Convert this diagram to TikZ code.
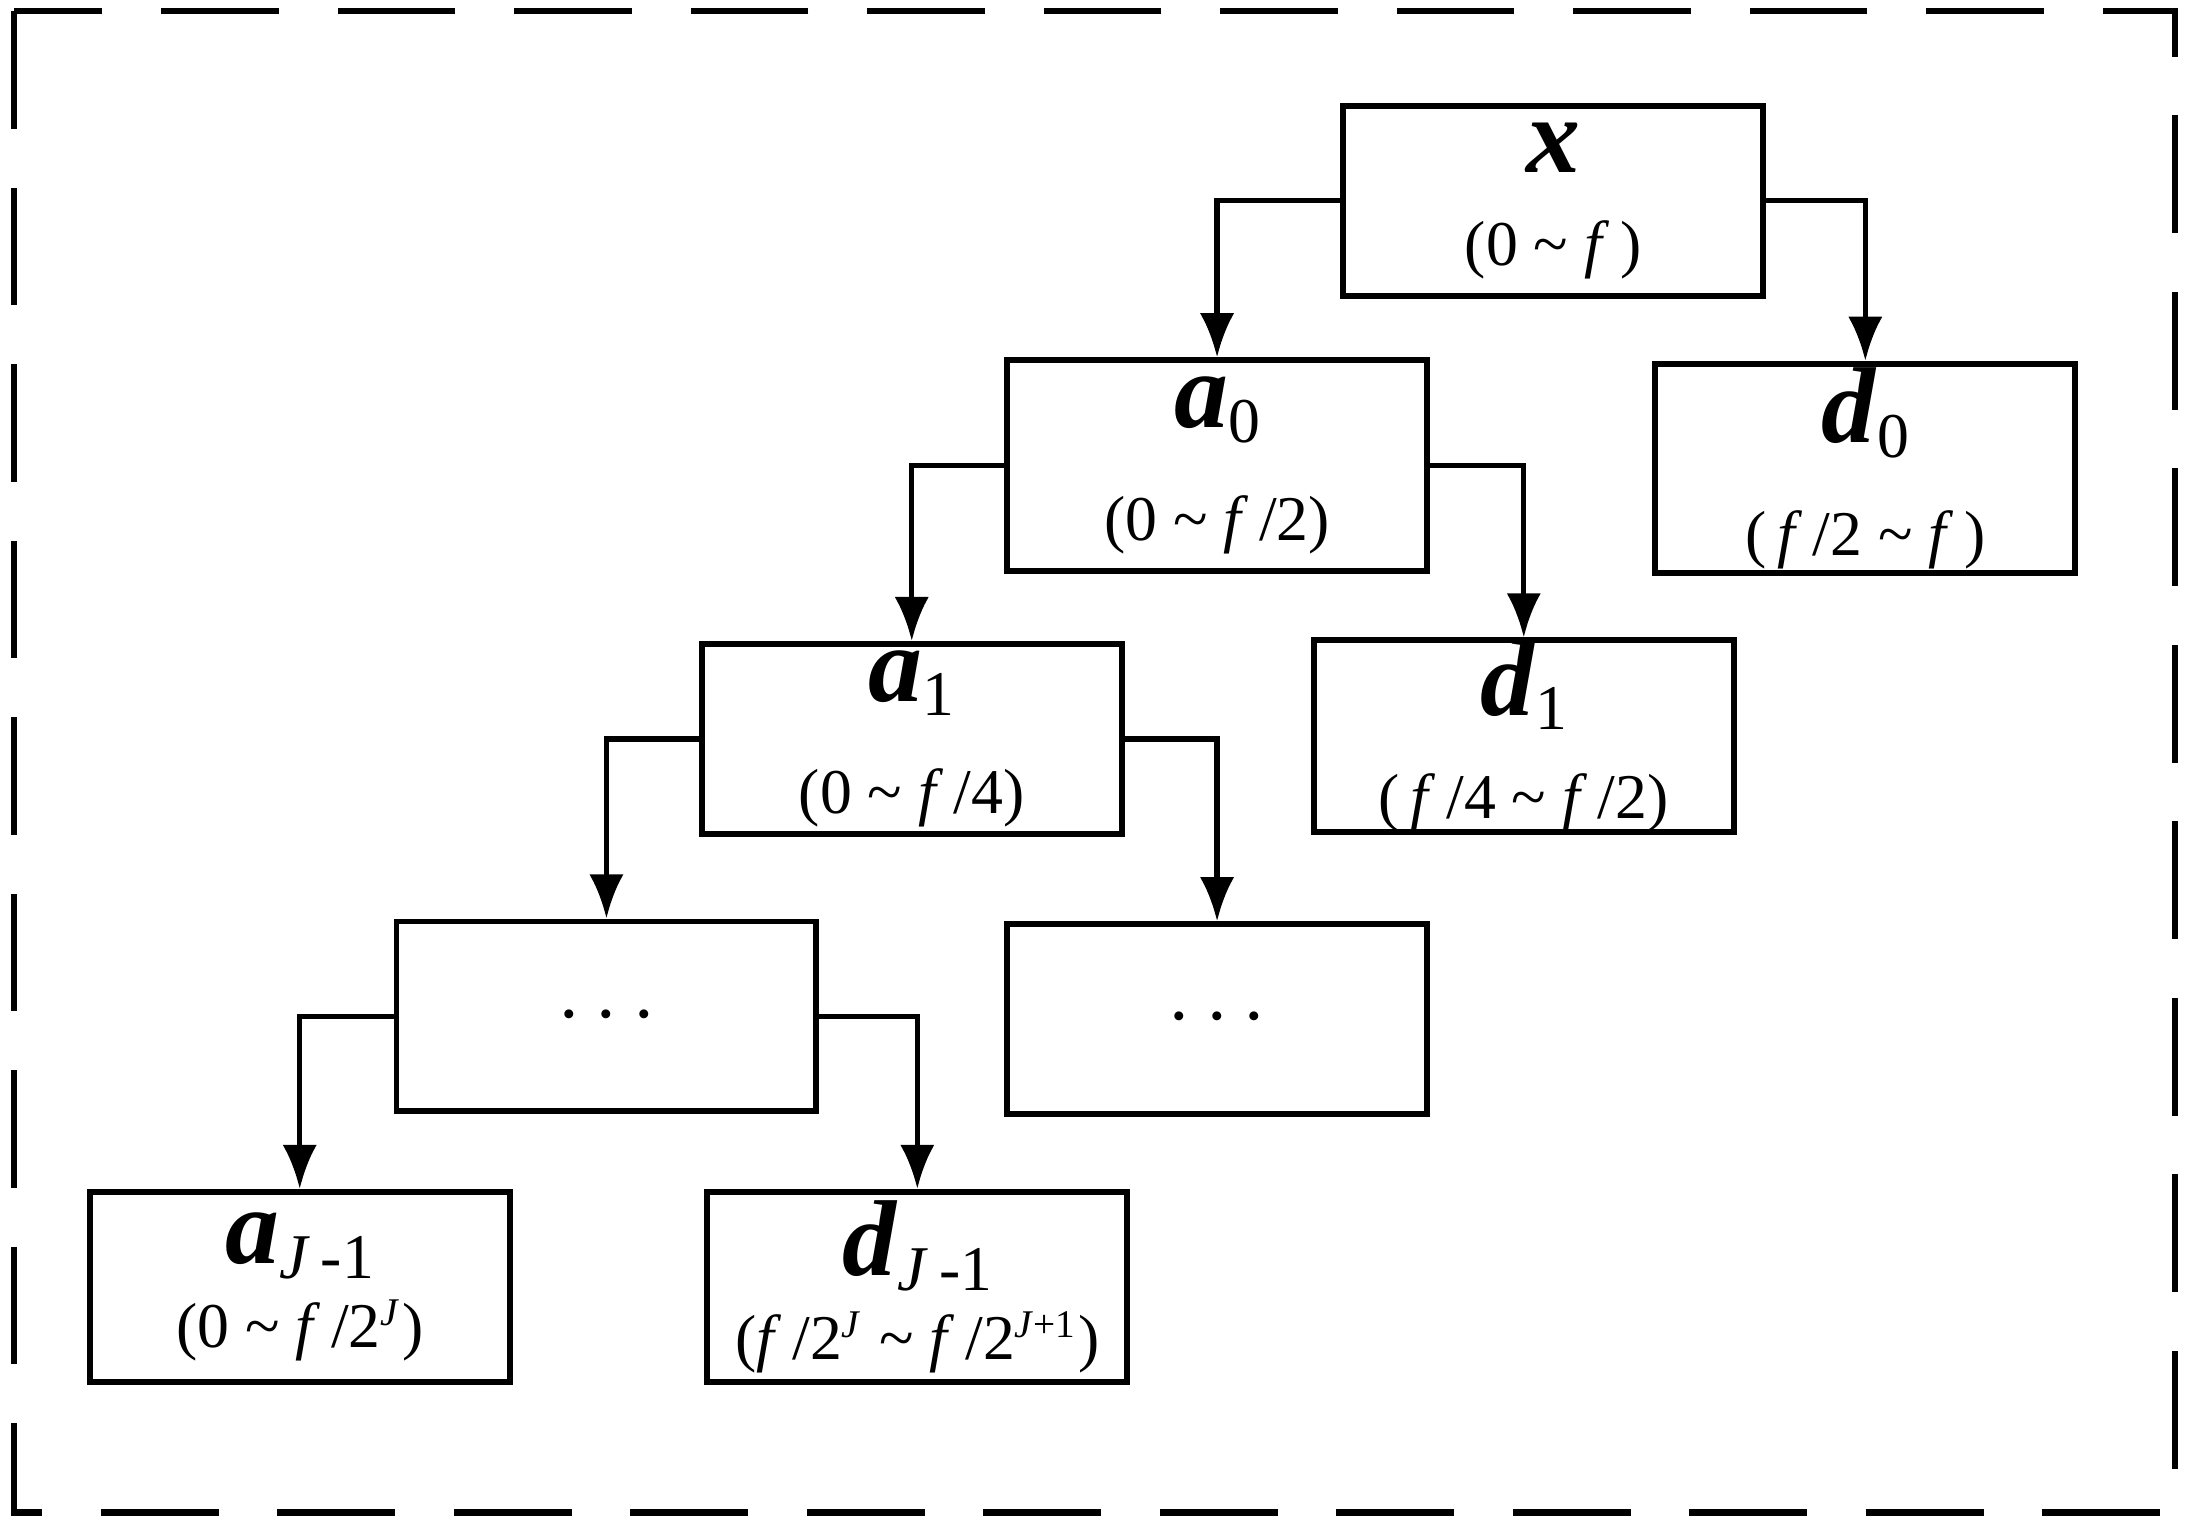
\documentclass[tikz,border=0pt]{standalone}
\usepackage{fontspec}
\setmainfont{Liberation Serif}
\usetikzlibrary{arrows.meta}
\begin{document}
\begin{tikzpicture}[x=0.01cm,y=-0.01cm,
 box/.style={draw,line width=1.2pt,minimum width=3.01cm,minimum height=1.36cm,align=center,inner sep=0pt,font=\fontsize{13}{17}\selectfont},
 arr/.style={draw,line width=1.1pt,-{Latex[length=9pt,width=7pt]}}]
\useasboundingbox (0,0) rectangle (1568,1098);
\draw[line width=1.3pt,dash pattern=on 24pt off 12pt] (10,8) rectangle (1560,1085);
\newcommand{\nm}[2]{{\fontsize{22}{22}\selectfont\textbf{\textit{#1}}}\raisebox{-3pt}{\fontsize{13}{13}\selectfont #2}}
\newcommand{\sj}[1]{\textsuperscript{\fontsize{8}{8}\selectfont #1}}
\node[box] (x) at (1114,144) {\nm{x}{}\\[2pt](0 \textasciitilde\ \textit{f}\,)};
\node[box,minimum height=1.51cm] (a0) at (873,334) {\nm{a}{0}\\[6pt](0 \textasciitilde\ \textit{f}\,/2)};
\node[box,minimum height=1.50cm] (d0) at (1338,336) {\nm{d}{0}\\[6pt](\,\textit{f}\,/2 \textasciitilde\ \textit{f}\,)};
\node[box] (a1) at (654,530) {\nm{a}{1}\\[6pt](0 \textasciitilde\ \textit{f}\,/4)};
\node[box] (d1) at (1093,528) {\nm{d}{1}\\[4pt](\,\textit{f}\,/4 \textasciitilde\ \textit{f}\,/2)};
\node[box] (l) at (435,729) {\fontsize{18}{18}\selectfont$\cdots$};
\node[box] (r) at (873,731) {\fontsize{18}{18}\selectfont$\cdots$};
\node[box] (aJ) at (215,923) {\nm{a}{\textit{J}\,-1}\\(0 \textasciitilde\ \textit{f}\,/2\sj{\textit{J}})};
\node[box] (dJ) at (658,923) {\nm{d}{\textit{J}\,-1}\\(\textit{f}\,/2\sj{\textit{J}} \textasciitilde\ \textit{f}\,/2\sj{\textit{J}+1})};
\draw[arr] (x.west) -| (a0.north);
\draw[arr] (x.east) -| (d0.north);
\draw[arr] (a0.west) -| (a1.north);
\draw[arr] (a0.east) -| (d1.north);
\draw[arr] (a1.west) -| (l.north);
\draw[arr] (a1.east) -| (r.north);
\draw[arr] (l.west) -| (aJ.north);
\draw[arr] (l.east) -| (dJ.north);
\end{tikzpicture}
\end{document}
